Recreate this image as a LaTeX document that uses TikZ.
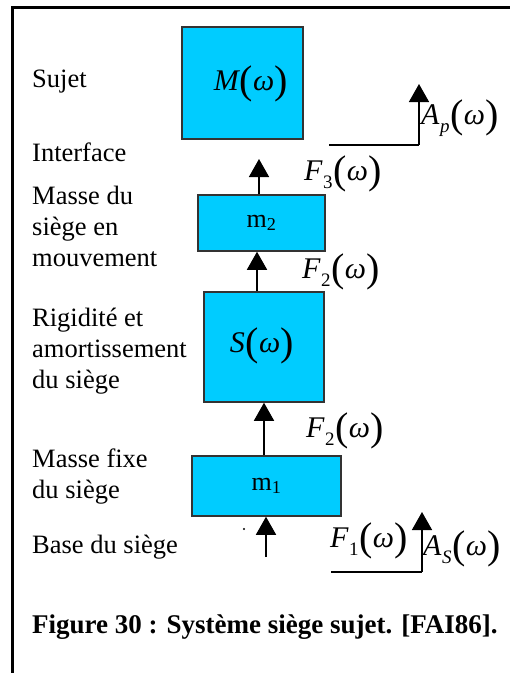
\documentclass[tikz,border=0pt]{standalone}
\usepackage{fontspec}
\setmainfont{Liberation Serif}
\usetikzlibrary{arrows.meta}
\definecolor{boxfill}{HTML}{00CCFF}
\definecolor{boxline}{HTML}{333333}
\newcommand{\bigp}[1]{\raisebox{-3pt}{\fontsize{40}{40}\selectfont #1}}
\newcommand{\wpar}{\kern0.5pt\bigp{(}\kern0.5pt{\itshape ω}\kern0.5pt\bigp{)}}
\newcommand{\fsym}[2]{{\itshape #1}\kern0.5pt\raisebox{-8pt}{\fontsize{19}{19}\selectfont #2}\wpar}
\begin{document}
\begin{tikzpicture}[x=1pt,y=-1pt,
  blockbox/.style={draw=boxline,line width=1.5pt,fill=boxfill,inner sep=0pt},
  sidetext/.style={anchor=west,align=left,inner sep=0pt,font=\fontsize{26.5}{31}\selectfont},
  mathlbl/.style={anchor=west,inner sep=0pt,font=\fontsize{30}{30}\selectfont},
  flow/.style={line width=1.5pt,-{Triangle[width=20pt,length=18pt]}},
  plain/.style={line width=1.5pt}]
\useasboundingbox (0,0) rectangle (510,673);
\draw[line width=3pt] (12,700) -- (12,7) -- (530,7);
% boxes
\node[blockbox,minimum width=121pt,minimum height=112pt] (M) at (242.5,83) {};
\node[mathlbl,anchor=center] (Ml) at (251,84) {{\itshape M}\wpar};
\node[blockbox,minimum width=127pt,minimum height=56pt] (m2) at (261.5,223) {\fontsize{26}{26}\selectfont m\textsubscript{2}};
\node[blockbox,minimum width=120pt,minimum height=110pt] (S) at (264,347) {};
\node[mathlbl,anchor=center] (Sl) at (262,346) {{\itshape S}\wpar};
\node[blockbox,minimum width=149pt,minimum height=60pt] (m1) at (266.5,486) {\fontsize{26}{26}\selectfont m\textsubscript{1}};
% left texts
\node[sidetext] (t1) at (32,82) {Sujet};
\node[sidetext] (t2) at (32,152) {Interface};
\node[sidetext] (t3) at (32,226) {Masse du\\siège en\\mouvement};
\node[sidetext] (t4) at (32,351) {Rigidité et\\amortissement\\du siège};
\node[sidetext] (t5) at (32,477) {Masse fixe\\du siège};
\node[sidetext] (t6) at (32,547) {Base du siège};
\node[anchor=west,inner sep=0pt,font=\bfseries\fontsize{27}{27}\selectfont] (cap) at (32,627) {Figure 30 : Système siège sujet. [FAI86].};
% coordinates
\coordinate (f3top) at (259,159);
\coordinate (basebot) at (266,557);
\coordinate (aptop) at (419,84);
\coordinate (apcorner) at (419,145);
\coordinate (apleft) at (329,145);
\coordinate (astop) at (422,512);
\coordinate (ascorner) at (422,572);
\coordinate (asleft) at (331,572);
% arrows
\draw[flow] (m2.north -| f3top) -- (f3top);
\draw[flow] (S.north -| 257,0) -- (m2.south -| 257,0);
\draw[flow] (m1.north -| 264,0) -- (S.south -| 264,0);
\draw[flow] (basebot) -- (basebot |- m1.south);
\draw[plain] (apleft) -- (apcorner);
\draw[flow] (apcorner) -- (aptop);
\draw[plain] (asleft) -- (ascorner);
\draw[flow] (ascorner) -- (astop);
\fill (244,529) circle (1.2pt);
% labels
\node[mathlbl] (F3) at (304,174) {\fsym{F}{3}};
\node[mathlbl] (F2a) at (302,272) {\fsym{F}{2}};
\node[mathlbl] (F2b) at (306,431) {\fsym{F}{2}};
\node[mathlbl] (F1) at (330,541) {\fsym{F}{1}};
\node[mathlbl] (Ap) at (421,118) {\fsym{A}{\itshape p}};
\node[mathlbl] (As) at (423,549) {\fsym{A}{\itshape S}};
\end{tikzpicture}
\end{document}
